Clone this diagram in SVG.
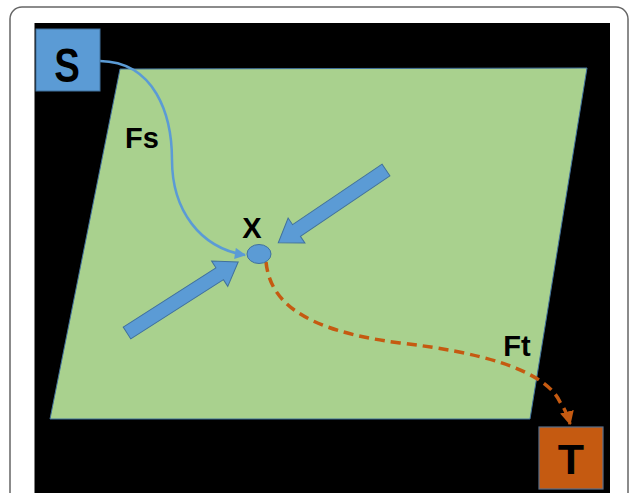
<svg xmlns="http://www.w3.org/2000/svg" width="632" height="493" viewBox="0 0 632 493">
<style>
.lbl{font-family:"Liberation Sans",Arial,sans-serif;font-weight:bold;fill:#000;text-anchor:middle}
.blk{fill:#5b9bd5;stroke:#41719c;stroke-width:1}
</style>
<defs>
<marker id="ahBlue" viewBox="0 0 10 10" refX="9" refY="5" markerWidth="5" markerHeight="4.5" orient="auto" markerUnits="strokeWidth">
<path d="M0,0 L10,5 L0,10 z" fill="#5b9bd5"/>
</marker>
<marker id="ahOrange" viewBox="0 0 10 10" refX="9" refY="5" markerWidth="4" markerHeight="4" orient="auto" markerUnits="strokeWidth">
<path d="M0,0 L10,5 L0,10 z" fill="#c55a11"/>
</marker>
</defs>
<rect x="0" y="0" width="632" height="493" fill="#fff"/>
<rect x="10" y="7" width="618" height="510" rx="12" fill="none" stroke="#666" stroke-width="1.5"/>
<rect x="34.5" y="23" width="575.5" height="470" fill="#000"/>
<polygon id="plane" points="120,69 587,68 530,419 50,419" fill="#a9d18e" stroke="#41719c" stroke-width="1"/>
<g id="arrow-in-left">
<polygon class="blk" transform="translate(127,333) rotate(-32.6)" points="0,-7 110,-7 110,-15 132,0 110,15 110,7 0,7"/>
</g>
<g id="arrow-in-right">
<polygon class="blk" transform="translate(386,170) rotate(145.95)" points="0,-7 108,-7 108,-15 130,0 108,15 108,7 0,7"/>
</g>
<g id="connectors">
<path d="M100,61 C155,62 172,115 172,160 C172,210 200,248 245,255" fill="none" stroke="#5b9bd5" stroke-width="2.5" marker-end="url(#ahBlue)"/>
<path d="M266,262 C270,300 300,330 400,343 C480,352 545,370 560,402 Q567,412 570,424" fill="none" stroke="#c55a11" stroke-width="3.5" stroke-dasharray="10,6" marker-end="url(#ahOrange)"/>
</g>
<g id="S">
<rect x="36" y="29" width="64" height="62" fill="#5b9bd5" stroke="#41719c" stroke-width="1"/>
<text class="lbl" transform="translate(67,82) scale(0.8,1)" x="0" y="0" font-size="48">S</text>
</g>
<g id="T">
<rect x="539" y="427" width="64" height="62" fill="#c55a11" stroke="#5a6f8a" stroke-width="1.2"/>
<text class="lbl" x="571" y="474" font-size="43">T</text>
</g>
<g id="X">
<ellipse cx="259" cy="254" rx="12" ry="9.5" fill="#5b9bd5" stroke="#41719c" stroke-width="1"/>
<text class="lbl" x="252" y="238" font-size="29">X</text>
</g>
<text class="lbl" x="142" y="148" font-size="29">Fs</text>
<text class="lbl" x="517" y="356" font-size="29">Ft</text>
</svg>
